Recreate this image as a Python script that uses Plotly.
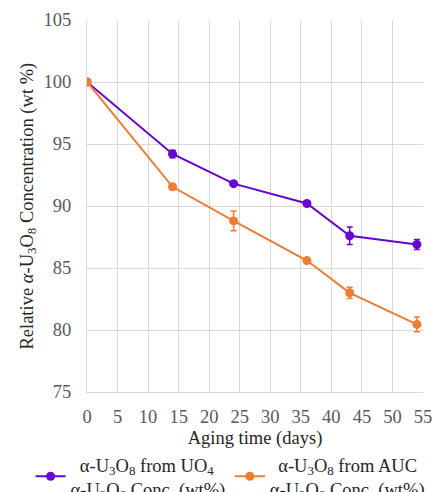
import plotly.graph_objects as go

days = [0, 14, 24, 36, 43, 54]
uo4_conc = [100.0, 94.2, 91.8, 90.2, 87.6, 86.9]
uo4_err = [0.0, 0.3, 0.15, 0.15, 0.7, 0.4]
auc_conc = [100.0, 91.55, 88.8, 85.6, 83.0, 80.45]
auc_err = [0.0, 0.1, 0.8, 0.1, 0.45, 0.6]
x_ticks = list(range(0, 60, 5))
y_ticks = list(range(75, 110, 5))

purple = "#6605d0"
orange = "#ed7d31"
FONT = "Liberation Serif"
FS = 18.5

name1 = "\u00a0\u00a0α-U<sub>3</sub>O<sub>8</sub> from UO<sub>4</sub><br>α-U<sub>3</sub>O<sub>8</sub> Conc. (wt%)"
name2 = "\u00a0\u2009α-U<sub>3</sub>O<sub>8</sub> from AUC<br>α-U<sub>3</sub>O<sub>8</sub> Conc. (wt%)"
y_title = "Relative <i>α</i>-U<sub>3</sub>O<sub>8</sub> Concentration (wt %)"

fig = go.Figure()
fig.add_trace(go.Scatter(
    x=days, y=uo4_conc, name=name1, mode="lines+markers", legend="legend",
    line=dict(color=purple, width=2), marker=dict(color=purple, size=9),
    error_y=dict(type="data", array=uo4_err, color=purple, thickness=1.5, width=3),
))
fig.add_trace(go.Scatter(
    x=days, y=auc_conc, name=name2, mode="lines+markers", legend="legend2",
    line=dict(color=orange, width=2), marker=dict(color=orange, size=9),
    error_y=dict(type="data", array=auc_err, color=orange, thickness=1.5, width=3),
))

leg_common = dict(orientation="v", xref="container", yref="container", yanchor="top",
                  xanchor="left", y=0.094, font=dict(family=FONT, size=FS, color="#262626"),
                  itemwidth=30, valign="middle", bgcolor="rgba(0,0,0,0)")
fig.update_layout(
    width=437, height=492,
    margin=dict(l=87, r=14, t=20, b=100, autoexpand=False),
    paper_bgcolor="white", plot_bgcolor="white",
    font=dict(family=FONT, size=FS, color="#262626"),
    showlegend=True,
    legend=dict(x=0.07, **leg_common),
    legend2=dict(x=0.526, **leg_common),
)
fig.add_annotation(text=y_title, xref="paper", yref="paper", x=-0.177, y=0.5,
                   xanchor="center", yanchor="middle", textangle=-90, showarrow=False,
                   font=dict(family=FONT, size=FS, color="#262626"))
fig.update_xaxes(
    range=[0, 55], tickvals=x_ticks, showgrid=True, gridcolor="#d9d9d9", gridwidth=1,
    zeroline=False, showline=True, linecolor="#d9d9d9", mirror=False,
    tickfont=dict(family=FONT, size=FS, color="#595959"),
    ticks="outside", ticklen=8, tickcolor="rgba(0,0,0,0)",
    title=dict(text="Aging time (days)", font=dict(family=FONT, size=FS, color="#262626"), standoff=4),
)
fig.update_yaxes(
    range=[75, 105], tickvals=y_ticks, showgrid=True, gridcolor="#d9d9d9", gridwidth=1,
    zeroline=False, showline=True, linecolor="#d9d9d9",
    tickfont=dict(family=FONT, size=FS, color="#595959"),
    ticks="outside", ticklen=11, tickcolor="rgba(0,0,0,0)",
)
fig.write_html("out.html")
